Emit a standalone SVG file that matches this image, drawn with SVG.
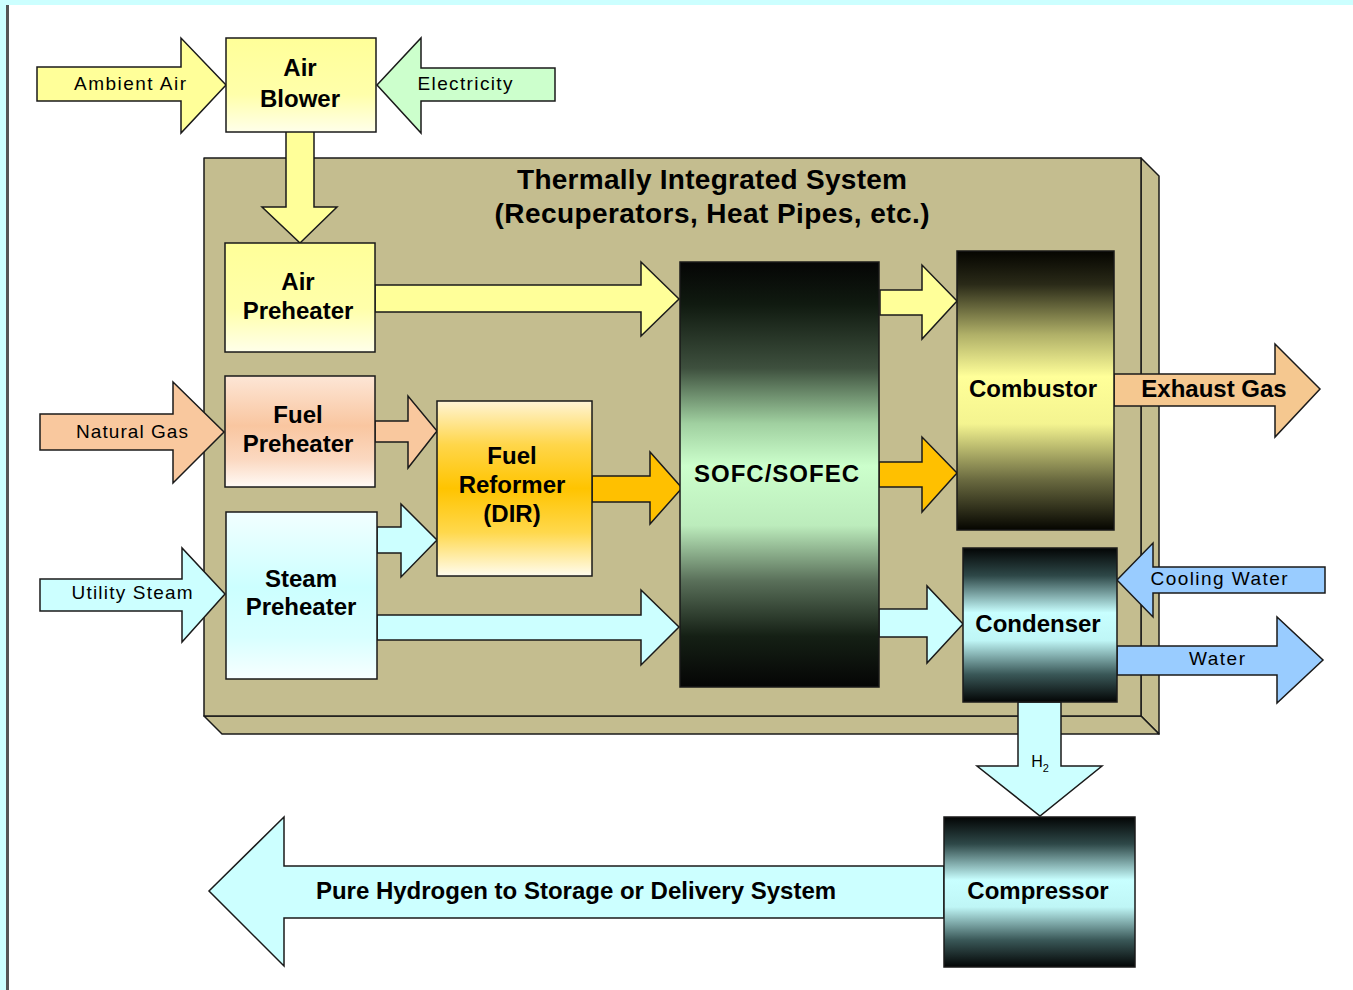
<svg xmlns="http://www.w3.org/2000/svg" width="1353" height="990" viewBox="0 0 1353 990">
<defs>
<style>
.box{stroke:#1a1a1a;stroke-width:1.5}
.arr{stroke:#1a1a1a;stroke-width:1.5;stroke-linejoin:miter}
.big{font-family:"Liberation Sans",Arial,sans-serif;font-weight:bold;font-size:24px;fill:#000;text-anchor:middle}
.ttl{font-size:28px}
.sm{font-family:"Liberation Sans",Arial,sans-serif;font-size:19px;fill:#000;text-anchor:middle}
.h2{font-size:16px}
.yel{fill:#ffff99}.pea{fill:#f9c89e}.cya{fill:#ccffff}.gold{fill:#ffc000}.blu{fill:#99ccff}.grn{fill:#ccffcc}.exh{fill:#f5c890}
.tb{fill:#c4bd8f;stroke:#1a1a1a;stroke-width:1.5;stroke-linejoin:round}
</style>
<linearGradient id="gAir" x1="0" y1="0" x2="0" y2="1">
<stop offset="0" stop-color="#ffff99"/><stop offset="0.6" stop-color="#ffffaa"/><stop offset="1" stop-color="#ffffea"/>
</linearGradient>
<linearGradient id="gFuel" x1="0" y1="0" x2="0" y2="1">
<stop offset="0" stop-color="#fde6d6"/><stop offset="0.45" stop-color="#f9c6a0"/><stop offset="0.75" stop-color="#fbd8c0"/><stop offset="1" stop-color="#fffaf6"/>
</linearGradient>
<linearGradient id="gSteam" x1="0" y1="0" x2="0" y2="1">
<stop offset="0" stop-color="#f2ffff"/><stop offset="0.45" stop-color="#ccffff"/><stop offset="0.75" stop-color="#d8ffff"/><stop offset="1" stop-color="#f8ffff"/>
</linearGradient>
<linearGradient id="gRef" x1="0" y1="0" x2="0" y2="1">
<stop offset="0" stop-color="#fff4d4"/><stop offset="0.25" stop-color="#ffd64a"/><stop offset="0.5" stop-color="#ffc400"/><stop offset="0.75" stop-color="#ffd84c"/><stop offset="1" stop-color="#fffcee"/>
</linearGradient>
<linearGradient id="gSofc" x1="0" y1="0" x2="0" y2="1">
<stop offset="0" stop-color="#050505"/><stop offset="0.1" stop-color="#101a10"/><stop offset="0.25" stop-color="#3e503e"/><stop offset="0.38" stop-color="#a0d0a0"/><stop offset="0.48" stop-color="#ccffcc"/><stop offset="0.62" stop-color="#bcecbc"/><stop offset="0.75" stop-color="#5a705a"/><stop offset="0.88" stop-color="#152015"/><stop offset="1" stop-color="#050505"/>
</linearGradient>
<linearGradient id="gComb" x1="0" y1="0" x2="0" y2="1">
<stop offset="0" stop-color="#050500"/><stop offset="0.12" stop-color="#2a2a18"/><stop offset="0.3" stop-color="#b0b068"/><stop offset="0.45" stop-color="#ffff99"/><stop offset="0.62" stop-color="#f4f490"/><stop offset="0.82" stop-color="#6a6a40"/><stop offset="1" stop-color="#050500"/>
</linearGradient>
<linearGradient id="gCond" x1="0" y1="0" x2="0" y2="1">
<stop offset="0" stop-color="#030505"/><stop offset="0.18" stop-color="#2e4848"/><stop offset="0.42" stop-color="#c8ffff"/><stop offset="0.6" stop-color="#bff6f6"/><stop offset="0.82" stop-color="#3a5858"/><stop offset="1" stop-color="#030505"/>
</linearGradient>
</defs>
<rect x="0" y="0" width="1353" height="990" fill="#ffffff"/>
<rect x="0" y="0" width="1353" height="5" fill="#ccffff"/>
<rect x="0" y="0" width="6" height="990" fill="#ccffff"/>
<rect x="6" y="5" width="3" height="985" fill="#555555"/>

<g id="thermal-system">
<polygon class="tb" points="1141,158 1159,176 1159,734 1141,716"/>
<polygon class="tb" points="204,716 1141,716 1159,734 222,734"/>
<rect class="tb" x="204" y="158" width="937" height="558"/>
<text class="big ttl" x="712" y="189" textLength="390">Thermally Integrated System</text>
<text class="big ttl" x="712" y="223" textLength="435">(Recuperators, Heat Pipes, etc.)</text>
</g>

<g id="connectors">
<path class="arr yel" d="M37,67 L181,67 L181,38 L226,85 L181,133 L181,101 L37,101 Z"/>
<path class="arr grn" d="M555,68 L421,68 L421,38 L377,85 L421,133 L421,101 L555,101 Z"/>
<path class="arr yel" d="M286,131 L314,131 L314,207 L337,207 L300,243 L262,207 L286,207 Z"/>
<path class="arr yel" d="M375,285 L641,285 L641,262 L679,299 L641,336 L641,312 L375,312 Z"/>
<path class="arr yel" d="M880,290 L922,290 L922,265 L957,301 L922,339 L922,315 L880,315 Z"/>
<path class="arr pea" d="M40,414 L173,414 L173,382 L224,432 L173,483 L173,450 L40,450 Z"/>
<path class="arr pea" d="M375,421 L408,421 L408,396 L437,431 L408,468 L408,442 L375,442 Z"/>
<path class="arr cya" d="M377,527 L401,527 L401,504 L437,540 L401,577 L401,553 L377,553 Z"/>
<path class="arr gold" d="M592,476 L650,476 L650,452 L682,488 L650,524 L650,502 L592,502 Z"/>
<path class="arr cya" d="M40,579 L182,579 L182,548 L225,594 L182,642 L182,611 L40,611 Z"/>
<path class="arr cya" d="M377,615 L641,615 L641,590 L679,627 L641,665 L641,640 L377,640 Z"/>
<path class="arr gold" d="M879,462 L922,462 L922,437 L957,473 L922,512 L922,487 L879,487 Z"/>
<path class="arr exh" d="M1114,374 L1275,374 L1275,344 L1320,389 L1275,437 L1275,406 L1114,406 Z"/>
<path class="arr cya" d="M879,609 L927,609 L927,586 L963,624 L927,663 L927,637 L879,637 Z"/>
<path class="arr blu" d="M1325,567 L1153,567 L1153,543 L1117,580 L1153,617 L1153,593 L1325,593 Z"/>
<path class="arr blu" d="M1117,646 L1277,646 L1277,617 L1323,660 L1277,703 L1277,675 L1117,675 Z"/>
<path class="arr cya" d="M1018,702 L1061,702 L1061,766 L1102,766 L1040,816 L977,766 L1018,766 Z"/>
<path class="arr cya" d="M944,866 L284,866 L284,817 L209,891 L284,966 L284,918 L944,918 Z"/>
<text class="sm" x="130" y="90" textLength="112">Ambient Air</text>
<text class="sm" x="465" y="90" textLength="95">Electricity</text>
<text class="sm" x="132" y="438" textLength="112">Natural Gas</text>
<text class="sm" x="132" y="599" textLength="121">Utility Steam</text>
<text class="big" x="1214" y="397">Exhaust Gas</text>
<text class="sm" x="1219" y="585" textLength="137">Cooling Water</text>
<text class="sm" x="1217" y="665" textLength="56">Water</text>
<text class="sm h2" x="1040" y="767">H<tspan font-size="11" dy="5">2</tspan></text>
<text class="big" x="576" y="899">Pure Hydrogen to Storage or Delivery System</text>
</g>

<g id="air-blower">
<rect class="box" x="226" y="38" width="150" height="94" fill="url(#gAir)"/>
<text class="big" x="300" y="76">Air</text>
<text class="big" x="300" y="107">Blower</text>
</g>
<g id="air-preheater">
<rect class="box" x="225" y="243" width="150" height="109" fill="url(#gAir)"/>
<text class="big" x="298" y="290">Air</text>
<text class="big" x="298" y="319">Preheater</text>
</g>
<g id="fuel-preheater">
<rect class="box" x="225" y="376" width="150" height="111" fill="url(#gFuel)"/>
<text class="big" x="298" y="423">Fuel</text>
<text class="big" x="298" y="452">Preheater</text>
</g>
<g id="steam-preheater">
<rect class="box" x="226" y="512" width="151" height="167" fill="url(#gSteam)"/>
<text class="big" x="301" y="587">Steam</text>
<text class="big" x="301" y="615">Preheater</text>
</g>
<g id="fuel-reformer">
<rect class="box" x="437" y="401" width="155" height="175" fill="url(#gRef)"/>
<text class="big" x="512" y="464">Fuel</text>
<text class="big" x="512" y="493">Reformer</text>
<text class="big" x="512" y="522">(DIR)</text>
</g>
<g id="sofc">
<rect class="box" x="680" y="262" width="199" height="425" fill="url(#gSofc)"/>
<text class="big" x="777" y="482" letter-spacing="1">SOFC/SOFEC</text>
</g>
<g id="combustor">
<rect class="box" x="957" y="251" width="157" height="279" fill="url(#gComb)"/>
<text class="big" x="1033" y="397">Combustor</text>
</g>
<g id="condenser">
<rect class="box" x="963" y="548" width="154" height="154" fill="url(#gCond)"/>
<text class="big" x="1038" y="632">Condenser</text>
</g>
<g id="compressor">
<rect class="box" x="944" y="817" width="191" height="150" fill="url(#gCond)"/>
<text class="big" x="1038" y="899">Compressor</text>
</g>
</svg>
